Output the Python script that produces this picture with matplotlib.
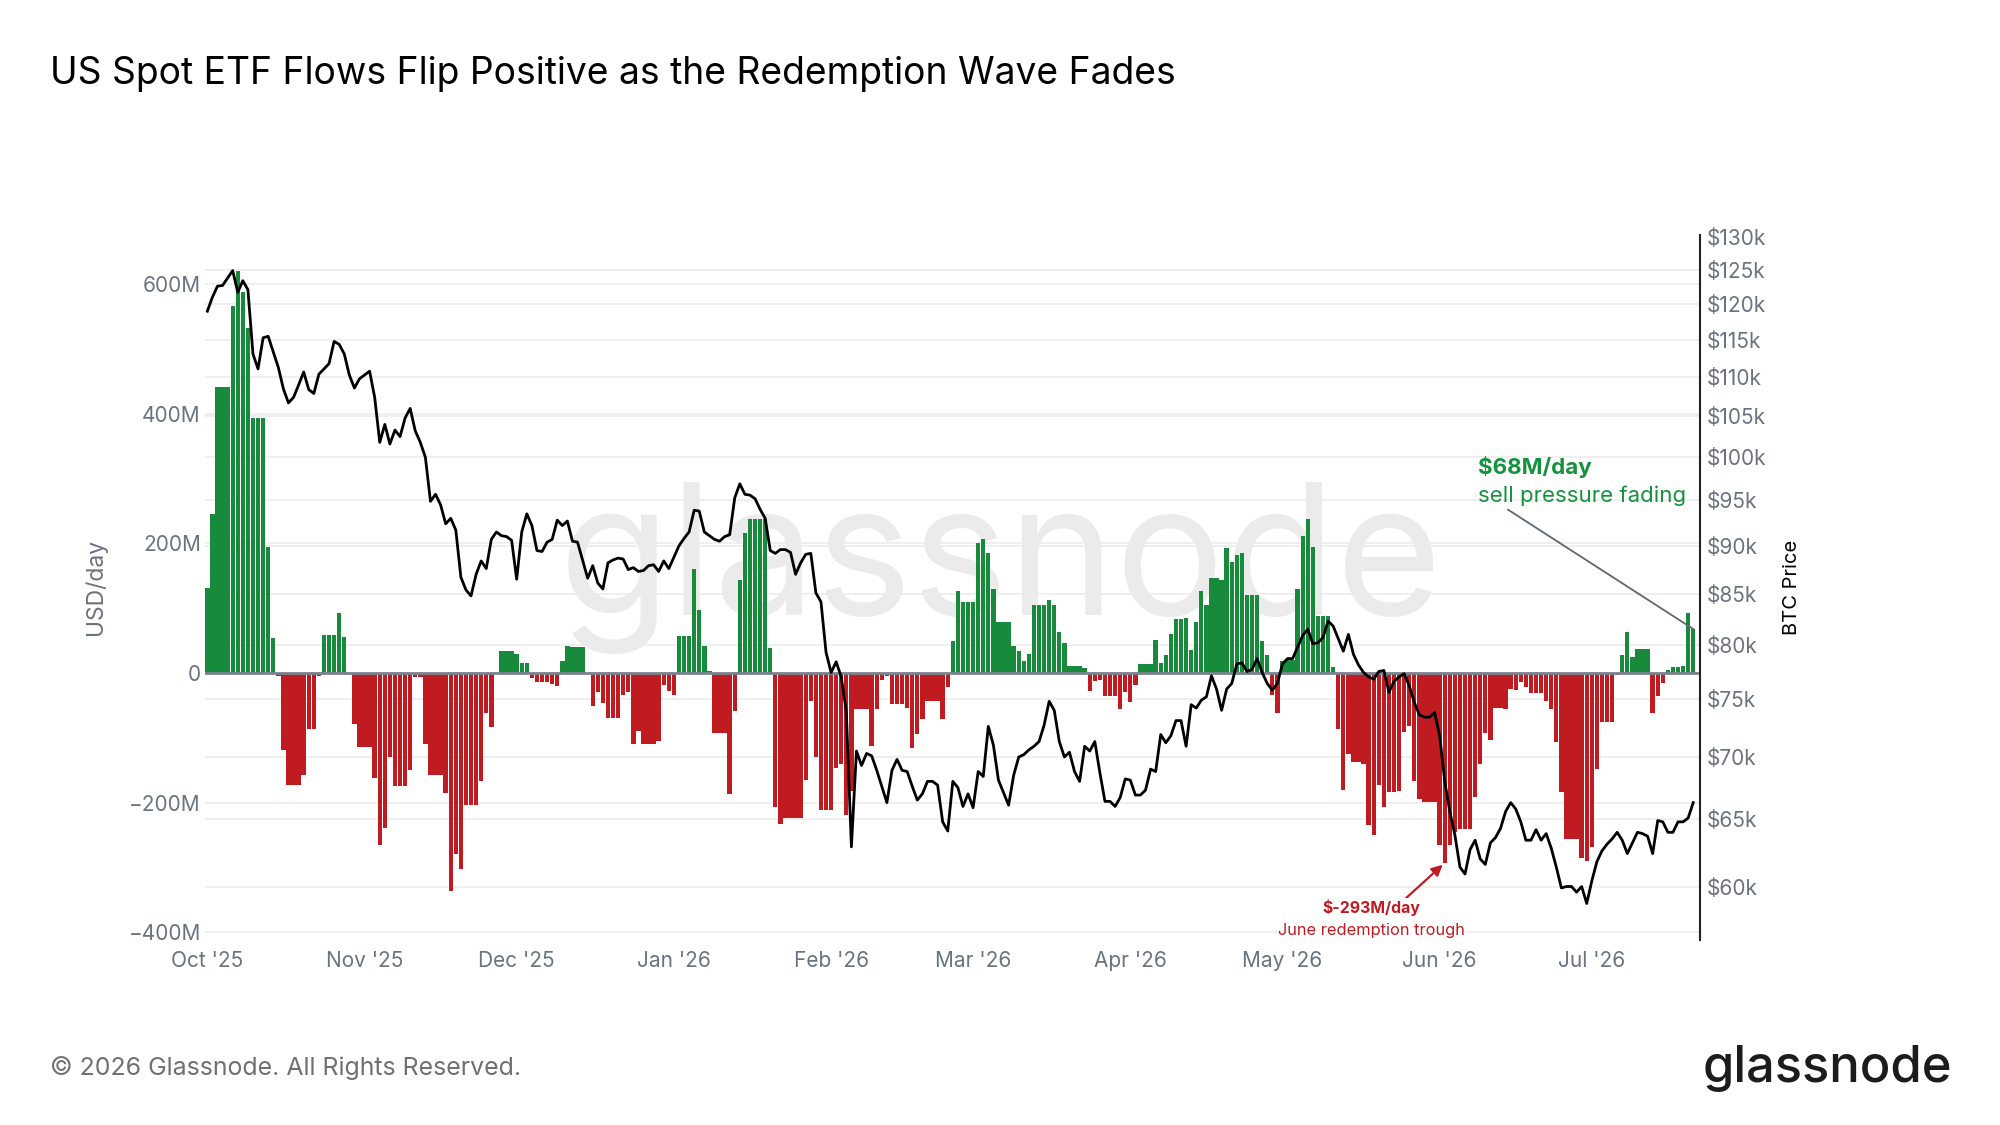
import pandas as pd
import matplotlib
matplotlib.use('Agg')
import matplotlib.pyplot as plt
from matplotlib.ticker import FixedLocator, NullLocator, FixedFormatter

plt.rcParams['font.family'] = ['Inter', 'DejaVu Sans']

# daily data, starting 2025-10-01
start_date = '2025-10-01'

# net ETF flows, USD millions per day
flows_musd = [
    132, 246, 442, 442, 442, 566, 621, 588, 532, 394, 394, 394, 195, 54, -5, -119,
    -173, -173, -173, -158, -86, -86, -4, 58, 58, 58, 93, 55, 0, -78, -114, -114,
    -114, -162, -265, -239, -130, -174, -174, -174, -150, -6, -6, -110, -157, -157, -157, -185,
    -337, -280, -302, -203, -203, -203, -166, -61, -84, 0, 34, 34, 34, 30, 15, 15,
    -8, -14, -14, -14, -17, -20, 18, 42, 40, 40, 40, -2, -51, -29, -47, -70,
    -70, -70, -34, -29, -109, -89, -110, -110, -110, -105, -18, -28, -34, 57, 57, 57,
    160, 98, 42, 3, -92, -92, -92, -187, -59, 144, 216, 238, 238, 238, 238, 39,
    -206, -233, -223, -223, -223, -223, -165, -43, -130, -212, -212, -212, -146, -140, -219, -182,
    -55, -55, -55, -113, -56, -10, -5, -48, -48, -48, -54, -115, -94, -71, -43, -43,
    -43, -71, -21, 49, 127, 109, 109, 109, 200, 207, 186, 130, 79, 79, 79, 42,
    34, 18, 29, 105, 105, 105, 112, 105, 63, 46, 11, 11, 11, 8, -28, -13,
    -10, -35, -35, -35, -56, -29, -45, -19, 14, 14, 14, 51, 16, 28, 60, 84,
    84, 85, 35, 78, 127, 105, 146, 146, 144, 193, 172, 182, 186, 121, 121, 120,
    50, 28, -34, -61, 18, 20, 20, 130, 212, 238, 195, 88, 88, 88, 9, -87,
    -180, -125, -138, -138, -140, -234, -250, -173, -206, -184, -184, -182, -91, -81, -166, -195,
    -199, -199, -199, -266, -293, -266, -245, -241, -241, -240, -191, -141, -92, -104, -54, -54,
    -56, -24, -26, -14, -21, -31, -31, -31, -43, -56, -106, -184, -256, -256, -256, -286,
    -290, -269, -148, -75, -75, -75, -3, 28, 63, 25, 37, 37, 37, -61, -36, -15,
    4, 10, 10, 11, 92, 68,
]

# BTC price, USD thousands
btc_price_k = [
    119.0, 121.0, 122.6, 122.7, 123.8, 124.9, 121.7, 123.4, 122.1, 113.1, 111.1, 115.3, 115.5, 113.4, 111.3, 108.5,
    106.7, 107.4, 109.0, 110.7, 108.4, 107.9, 110.4, 111.1, 111.8, 114.8, 114.4, 113.1, 110.3, 108.6, 109.8, 110.3,
    110.8, 107.4, 101.8, 104.0, 101.6, 103.3, 102.5, 104.8, 106.0, 103.2, 101.8, 100.0, 94.9, 95.7, 94.5, 92.4,
    93.0, 91.7, 86.7, 85.4, 84.8, 87.0, 88.4, 87.6, 90.7, 91.5, 91.1, 91.0, 90.6, 86.5, 91.5, 93.5,
    92.2, 89.5, 89.4, 90.4, 90.7, 92.8, 92.2, 92.7, 90.5, 90.4, 88.5, 86.6, 87.9, 86.1, 85.5, 88.2,
    88.5, 88.7, 88.6, 87.5, 87.7, 87.3, 87.4, 87.9, 88.0, 87.3, 88.4, 87.6, 88.8, 90.0, 90.8, 91.5,
    93.9, 93.8, 91.5, 91.1, 90.7, 90.5, 91.0, 91.2, 95.3, 96.9, 95.7, 95.6, 95.2, 94.0, 93.0, 89.5,
    89.2, 89.6, 89.6, 89.3, 87.0, 88.2, 89.1, 89.2, 85.1, 84.2, 79.3, 77.4, 78.4, 77.0, 73.9, 62.9,
    70.5, 69.3, 70.3, 70.1, 68.9, 67.6, 66.3, 68.9, 69.8, 68.9, 68.8, 67.6, 66.5, 67.0, 68.0, 68.0,
    67.7, 64.8, 64.1, 68.0, 67.5, 66.0, 67.0, 65.9, 68.8, 68.4, 72.6, 71.0, 68.1, 67.1, 66.1, 68.5,
    70.0, 70.2, 70.6, 70.9, 71.3, 72.7, 74.8, 74.0, 71.3, 70.0, 70.4, 68.8, 68.0, 70.9, 70.5, 71.3,
    68.7, 66.4, 66.4, 66.0, 66.7, 68.2, 68.1, 66.9, 66.9, 67.3, 69.0, 68.8, 71.9, 71.2, 71.8, 73.1,
    73.1, 70.9, 74.5, 74.2, 74.9, 75.2, 77.1, 75.9, 74.0, 75.9, 76.4, 78.2, 78.3, 77.5, 77.7, 78.7,
    77.4, 76.4, 75.8, 76.4, 78.2, 78.7, 78.7, 79.8, 80.9, 81.5, 80.1, 80.2, 80.7, 82.3, 81.8, 80.6,
    79.4, 81.0, 79.1, 78.1, 77.4, 77.0, 76.8, 77.5, 77.6, 75.6, 76.6, 77.0, 77.3, 76.2, 74.7, 73.6,
    73.4, 73.4, 73.8, 71.8, 68.0, 65.6, 63.8, 61.4, 60.9, 62.7, 63.4, 62.0, 61.6, 63.2, 63.6, 64.3,
    65.6, 66.3, 65.8, 64.8, 63.4, 63.4, 64.2, 63.4, 63.9, 62.8, 61.4, 59.9, 60.0, 60.0, 59.6, 60.0,
    58.8, 60.4, 61.8, 62.6, 63.1, 63.5, 64.0, 63.4, 62.4, 63.2, 64.0, 63.9, 63.7, 62.4, 64.9, 64.8,
    64.0, 64.0, 64.8, 64.8, 65.1, 66.3,
]

month_ticks = ['2025-10-01', '2025-11-01', '2025-12-01', '2026-01-01', '2026-02-01',
               '2026-03-01', '2026-04-01', '2026-05-01', '2026-06-01', '2026-07-01']
month_labels = ["Oct '25", "Nov '25", "Dec '25", "Jan '26", "Feb '26",
                "Mar '26", "Apr '26", "May '26", "Jun '26", "Jul '26"]
flow_ticks = [-400, -200, 0, 200, 400, 600]
flow_labels = ['\u2212400M', '\u2212200M', '0', '200M', '400M', '600M']
price_ticks = [60, 65, 70, 75, 80, 85, 90, 95, 100, 105, 110, 115, 120, 125, 130]

trough_day = '2026-06-02'
trough_value = -293
last_value = 68

GREEN = '#178a3b'
RED = '#c01b20'
GRAY = '#6b7280'
GRID = '#ececec'

dates = pd.date_range(start_date, periods=len(flows_musd), freq='D')
x_left = dates[0] - pd.Timedelta(hours=11)
x_right = dates[-1] + pd.Timedelta(hours=32)
flow_lim = (-412, 676)
price_lim = (56.3, 130.3)

fig = plt.figure(figsize=(20, 11.25), dpi=100)
rect = [205 / 2000, 1 - 940 / 1125, 1495 / 2000, 705 / 1125]

# bottom layer: price grid lines only (none at the very top)
ax_g = fig.add_axes(rect, zorder=0)
ax_g.set_yscale('log')
ax_g.set_ylim(*price_lim)
ax_g.set_xlim(x_left, x_right)
ax_g.yaxis.set_major_locator(FixedLocator(price_ticks[:-1]))
ax_g.yaxis.set_minor_locator(NullLocator())
ax_g.grid(axis='y', color=GRID, lw=1.2)
ax_g.tick_params(left=False, bottom=False, labelleft=False, labelbottom=False)
for s in ax_g.spines.values():
    s.set_visible(False)

# flows
ax = fig.add_axes(rect, zorder=1)
ax.patch.set_visible(False)
colors = [GREEN if v >= 0 else RED for v in flows_musd]
ax.bar(dates, flows_musd, width=0.86, color=colors, zorder=2)
ax.axhline(0, color='#7c8290', lw=2, zorder=3)
ax.set_xlim(x_left, x_right)
ax.set_ylim(*flow_lim)
ax.set_yticks(flow_ticks)
ax.set_yticklabels(flow_labels)
ax.set_xticks(pd.to_datetime(month_ticks))
ax.set_xticklabels(month_labels)
ax.grid(axis='y', color=GRID, lw=1.2, zorder=0)
ax.set_axisbelow(True)
ax.tick_params(axis='both', length=0, labelsize=15, labelcolor=GRAY)
ax.tick_params(axis='y', pad=3)
ax.tick_params(axis='x', pad=8)
for s in ax.spines.values():
    s.set_visible(False)

ax.text(0.532, 0.461, 'glassnode', transform=ax.transAxes, fontsize=131,
        color='#ebebeb', ha='center', va='baseline', zorder=1)

# price
ax2 = fig.add_axes(rect, zorder=2)
ax2.patch.set_visible(False)
ax2.plot(dates, btc_price_k, color='black', lw=2.0)
ax2.set_yscale('log')
ax2.set_ylim(*price_lim)
ax2.set_xlim(x_left, x_right)
ax2.yaxis.tick_right()
ax2.yaxis.set_major_locator(FixedLocator(price_ticks))
ax2.yaxis.set_minor_locator(NullLocator())
ax2.yaxis.set_major_formatter(FixedFormatter(['$%dk' % p for p in price_ticks]))
ax2.tick_params(axis='y', length=0, labelsize=15, labelcolor=GRAY, pad=5)
ax2.tick_params(axis='x', bottom=False, labelbottom=False)
for k, s in ax2.spines.items():
    s.set_visible(k == 'right')
ax2.spines['right'].set_color('#222222')
ax2.spines['right'].set_linewidth(1.5)

# annotations
t_day = pd.Timestamp(trough_day)
ax.annotate('', xy=(t_day, trough_value), xytext=(dates[0] + pd.Timedelta(days=236.0), -350),
            arrowprops=dict(arrowstyle='-|>', color=RED, lw=1.6, mutation_scale=16), zorder=6)
ax.text(dates[0] + pd.Timedelta(days=229.6), -362, '$-293M/day', color=RED, fontsize=11.4,
        fontweight='bold', ha='center', va='center', zorder=6,
        bbox=dict(facecolor='white', edgecolor='none', pad=1))
ax.text(dates[0] + pd.Timedelta(days=229.6), -397, 'June redemption trough', color=RED,
        fontsize=11.8, ha='center', va='center', zorder=6,
        bbox=dict(facecolor='white', edgecolor='none', pad=1))

ax.plot([dates[0] + pd.Timedelta(days=256.5), dates[-1]], [252, last_value],
        color='#5f6673', lw=1.3, zorder=6)
ax.text(dates[0] + pd.Timedelta(days=250.6), 318, '$68M/day', color='#15923d', fontsize=16.1,
        fontweight='bold', ha='left', va='center', zorder=6)
ax.text(dates[0] + pd.Timedelta(days=250.6), 273, 'sell pressure fading', color='#15923d',
        fontsize=16, ha='left', va='center', zorder=6)

fig.text(96 / 2000, 1 - 587 / 1125, 'USD/day', rotation=90, ha='center', va='center',
         fontsize=16.5, color=GRAY)
fig.text(1792 / 2000, 1 - 587 / 1125, 'BTC Price', rotation=90, ha='center', va='center',
         fontsize=14.5, color='black')

fig.text(50 / 2000, 1 - 74 / 1125, 'US Spot ETF Flows Flip Positive as the Redemption Wave Fades',
         fontsize=26.8, color='black', ha='left', va='center')
fig.text(50 / 2000, 1 - 1068 / 1125, '\u00a9 2026 Glassnode. All Rights Reserved.',
         fontsize=17.9, color='#707070', ha='left', va='center')
fig.text(1952 / 2000, 1 - 1082 / 1125, 'glassnode', fontsize=36.5, fontweight='medium',
         color='#1c1c1c', ha='right', va='baseline')

fig.savefig('out.png', dpi=100)
